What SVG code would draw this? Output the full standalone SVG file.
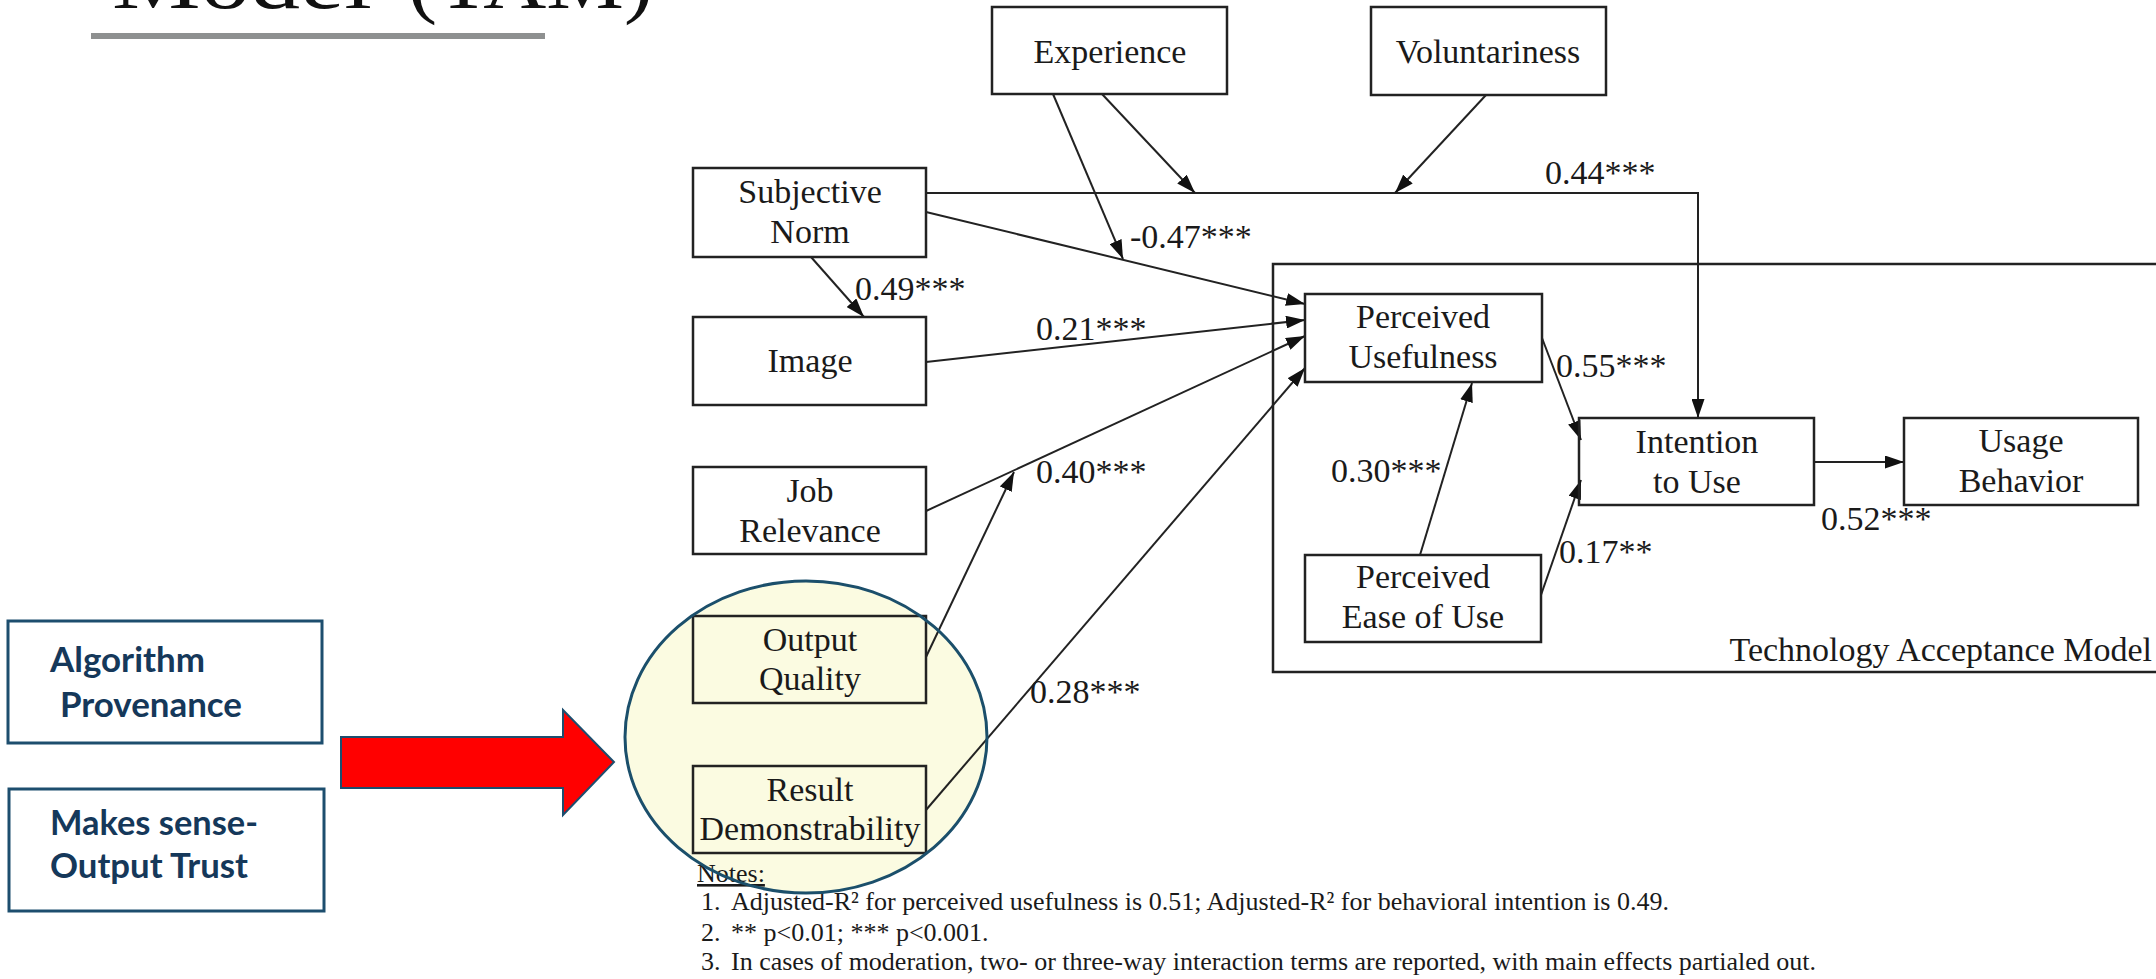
<svg xmlns="http://www.w3.org/2000/svg" width="2156" height="979" viewBox="0 0 2156 979">
<style>
.box{fill:none;stroke:#222;stroke-width:2.5}
.t{font-family:"Liberation Serif","Times New Roman",serif;font-size:34px;fill:#1a1a1a;text-anchor:middle}
.lbl{font-family:"Liberation Serif","Times New Roman",serif;font-size:34px;fill:#1a1a1a}
.note{font-family:"Liberation Serif","Times New Roman",serif;font-size:26px;fill:#1a1a1a}
.ln{fill:none;stroke:#222;stroke-width:2}
.side{fill:#fff;stroke:#1d4e6e;stroke-width:3}
.st{font-family:Lato,"Open Sans",sans-serif;font-weight:bold;font-size:34px;fill:#15385a}
</style>
<defs>
<marker id="ah" markerUnits="userSpaceOnUse" markerWidth="19" markerHeight="13" refX="19" refY="6.5" orient="auto">
<path d="M0,0 L19,6.5 L0,13 z" fill="#111"/>
</marker>
</defs>
<rect width="2156" height="979" fill="#fff"/>
<g id="title">
<text y="8" font-family="Liberation Serif,serif" font-size="80" fill="#111"><tspan x="112" textLength="260" lengthAdjust="spacingAndGlyphs">Model</tspan><tspan x="408" textLength="245" lengthAdjust="spacingAndGlyphs">(TAM)</tspan></text>
<rect x="91" y="33" width="454" height="6" fill="#8e9090"/>
</g>
<ellipse id="highlight-fill" cx="806" cy="737" rx="181" ry="156" fill="#fbfbe1"/>
<g id="connectors">
<path class="ln" d="M926,193 H1698 V418" marker-end="url(#ah)"/>
<path class="ln" d="M1102,94 L1195,193" marker-end="url(#ah)"/>
<path class="ln" d="M1486,95 L1395,193" marker-end="url(#ah)"/>
<path class="ln" d="M1053,94 L1123,259" marker-end="url(#ah)"/>
<path class="ln" d="M926,212 L1305,304" marker-end="url(#ah)"/>
<path class="ln" d="M811,257 L864,317" marker-end="url(#ah)"/>
<path class="ln" d="M926,362 L1305,320" marker-end="url(#ah)"/>
<path class="ln" d="M926,511 L1305,336" marker-end="url(#ah)"/>
<path class="ln" d="M926,657 L1014,472" marker-end="url(#ah)"/>
<path class="ln" d="M926,810 L1305,368" marker-end="url(#ah)"/>
<path class="ln" d="M1420,555 L1472,383" marker-end="url(#ah)"/>
<path class="ln" d="M1542,338 L1581,440" marker-end="url(#ah)"/>
<path class="ln" d="M1541,595 L1581,480" marker-end="url(#ah)"/>
<path class="ln" d="M1814,462 L1904,462" stroke-width="3" marker-end="url(#ah)"/>
</g>
<g id="labels">
<text class="lbl" x="1545" y="184">0.44***</text>
<text class="lbl" x="1130" y="248">-0.47***</text>
<text class="lbl" x="855" y="300">0.49***</text>
<text class="lbl" x="1036" y="340">0.21***</text>
<text class="lbl" x="1036" y="483">0.40***</text>
<text class="lbl" x="1030" y="703">0.28***</text>
<text class="lbl" x="1331" y="482">0.30***</text>
<text class="lbl" x="1556" y="377">0.55***</text>
<text class="lbl" x="1559" y="563">0.17**</text>
<text class="lbl" x="1821" y="530">0.52***</text>
</g>
<g id="tam">
<path class="box" d="M2160,264 H1273 V672 H2160"/>
<text class="lbl" x="2152" y="661" text-anchor="end">Technology Acceptance Model</text>
</g>
<g id="experience"><rect class="box" x="992" y="7" width="235" height="87"/><text class="t" x="1110" y="63">Experience</text></g>
<g id="voluntariness"><rect class="box" x="1371" y="7" width="235" height="88"/><text class="t" x="1488" y="63">Voluntariness</text></g>
<g id="subjective-norm"><rect class="box" x="693" y="168" width="233" height="89"/><text class="t" x="810" y="203">Subjective</text><text class="t" x="810" y="243">Norm</text></g>
<g id="image"><rect class="box" x="693" y="317" width="233" height="88"/><text class="t" x="810" y="372">Image</text></g>
<g id="job-relevance"><rect class="box" x="693" y="467" width="233" height="87"/><text class="t" x="810" y="502">Job</text><text class="t" x="810" y="542">Relevance</text></g>
<g id="output-quality"><rect class="box" x="693" y="616" width="233" height="87" stroke="#3a3a28"/><text class="t" x="810" y="651">Output</text><text class="t" x="810" y="690">Quality</text></g>
<g id="result-demonstrability"><rect class="box" x="693" y="766" width="233" height="87" stroke="#3a3a28"/><text class="t" x="810" y="801">Result</text><text class="t" x="810" y="840">Demonstrability</text></g>
<g id="perceived-usefulness"><rect class="box" x="1305" y="294" width="237" height="88"/><text class="t" x="1423" y="328">Perceived</text><text class="t" x="1423" y="368">Usefulness</text></g>
<g id="perceived-ease"><rect class="box" x="1305" y="555" width="236" height="87"/><text class="t" x="1423" y="588">Perceived</text><text class="t" x="1423" y="628">Ease of Use</text></g>
<g id="intention"><rect class="box" x="1579" y="418" width="235" height="87"/><text class="t" x="1697" y="453">Intention</text><text class="t" x="1697" y="493">to Use</text></g>
<g id="usage"><rect class="box" x="1904" y="418" width="234" height="87"/><text class="t" x="2021" y="452">Usage</text><text class="t" x="2021" y="492">Behavior</text></g>
<g id="notes">
<text class="note" x="697" y="882" text-decoration="underline">Notes:</text>
<text class="note" x="701" y="910">1.</text>
<text class="note" x="731" y="910" textLength="938" lengthAdjust="spacingAndGlyphs">Adjusted-R² for perceived usefulness is 0.51; Adjusted-R² for behavioral intention is 0.49.</text>
<text class="note" x="701" y="941">2.</text>
<text class="note" x="731" y="941">** p&lt;0.01; *** p&lt;0.001.</text>
<text class="note" x="701" y="970">3.</text>
<text class="note" x="731" y="970" textLength="1085" lengthAdjust="spacingAndGlyphs">In cases of moderation, two- or three-way interaction terms are reported, with main effects partialed out.</text>
</g>
<ellipse id="highlight" cx="806" cy="737" rx="181" ry="156" fill="none" stroke="#1b4f6b" stroke-width="3"/>
<g id="algorithm-provenance">
<rect class="side" x="8" y="621" width="314" height="122"/>
<text class="st" x="50" y="672" textLength="155" lengthAdjust="spacingAndGlyphs">Algorithm</text>
<text class="st" x="60" y="717" textLength="182" lengthAdjust="spacingAndGlyphs">Provenance</text>
</g>
<g id="makes-sense">
<rect class="side" x="9" y="789" width="315" height="122"/>
<text class="st" x="50" y="835" textLength="208" lengthAdjust="spacingAndGlyphs">Makes sense-</text>
<text class="st" x="50" y="878" textLength="198" lengthAdjust="spacingAndGlyphs">Output Trust</text>
</g>
<g id="red-arrow">
<path d="M341,737 H563 V710 L614,762 L563,815 V788 H341 Z" fill="#ff0000" stroke="#1d4e6e" stroke-width="2"/>
</g>
</svg>
